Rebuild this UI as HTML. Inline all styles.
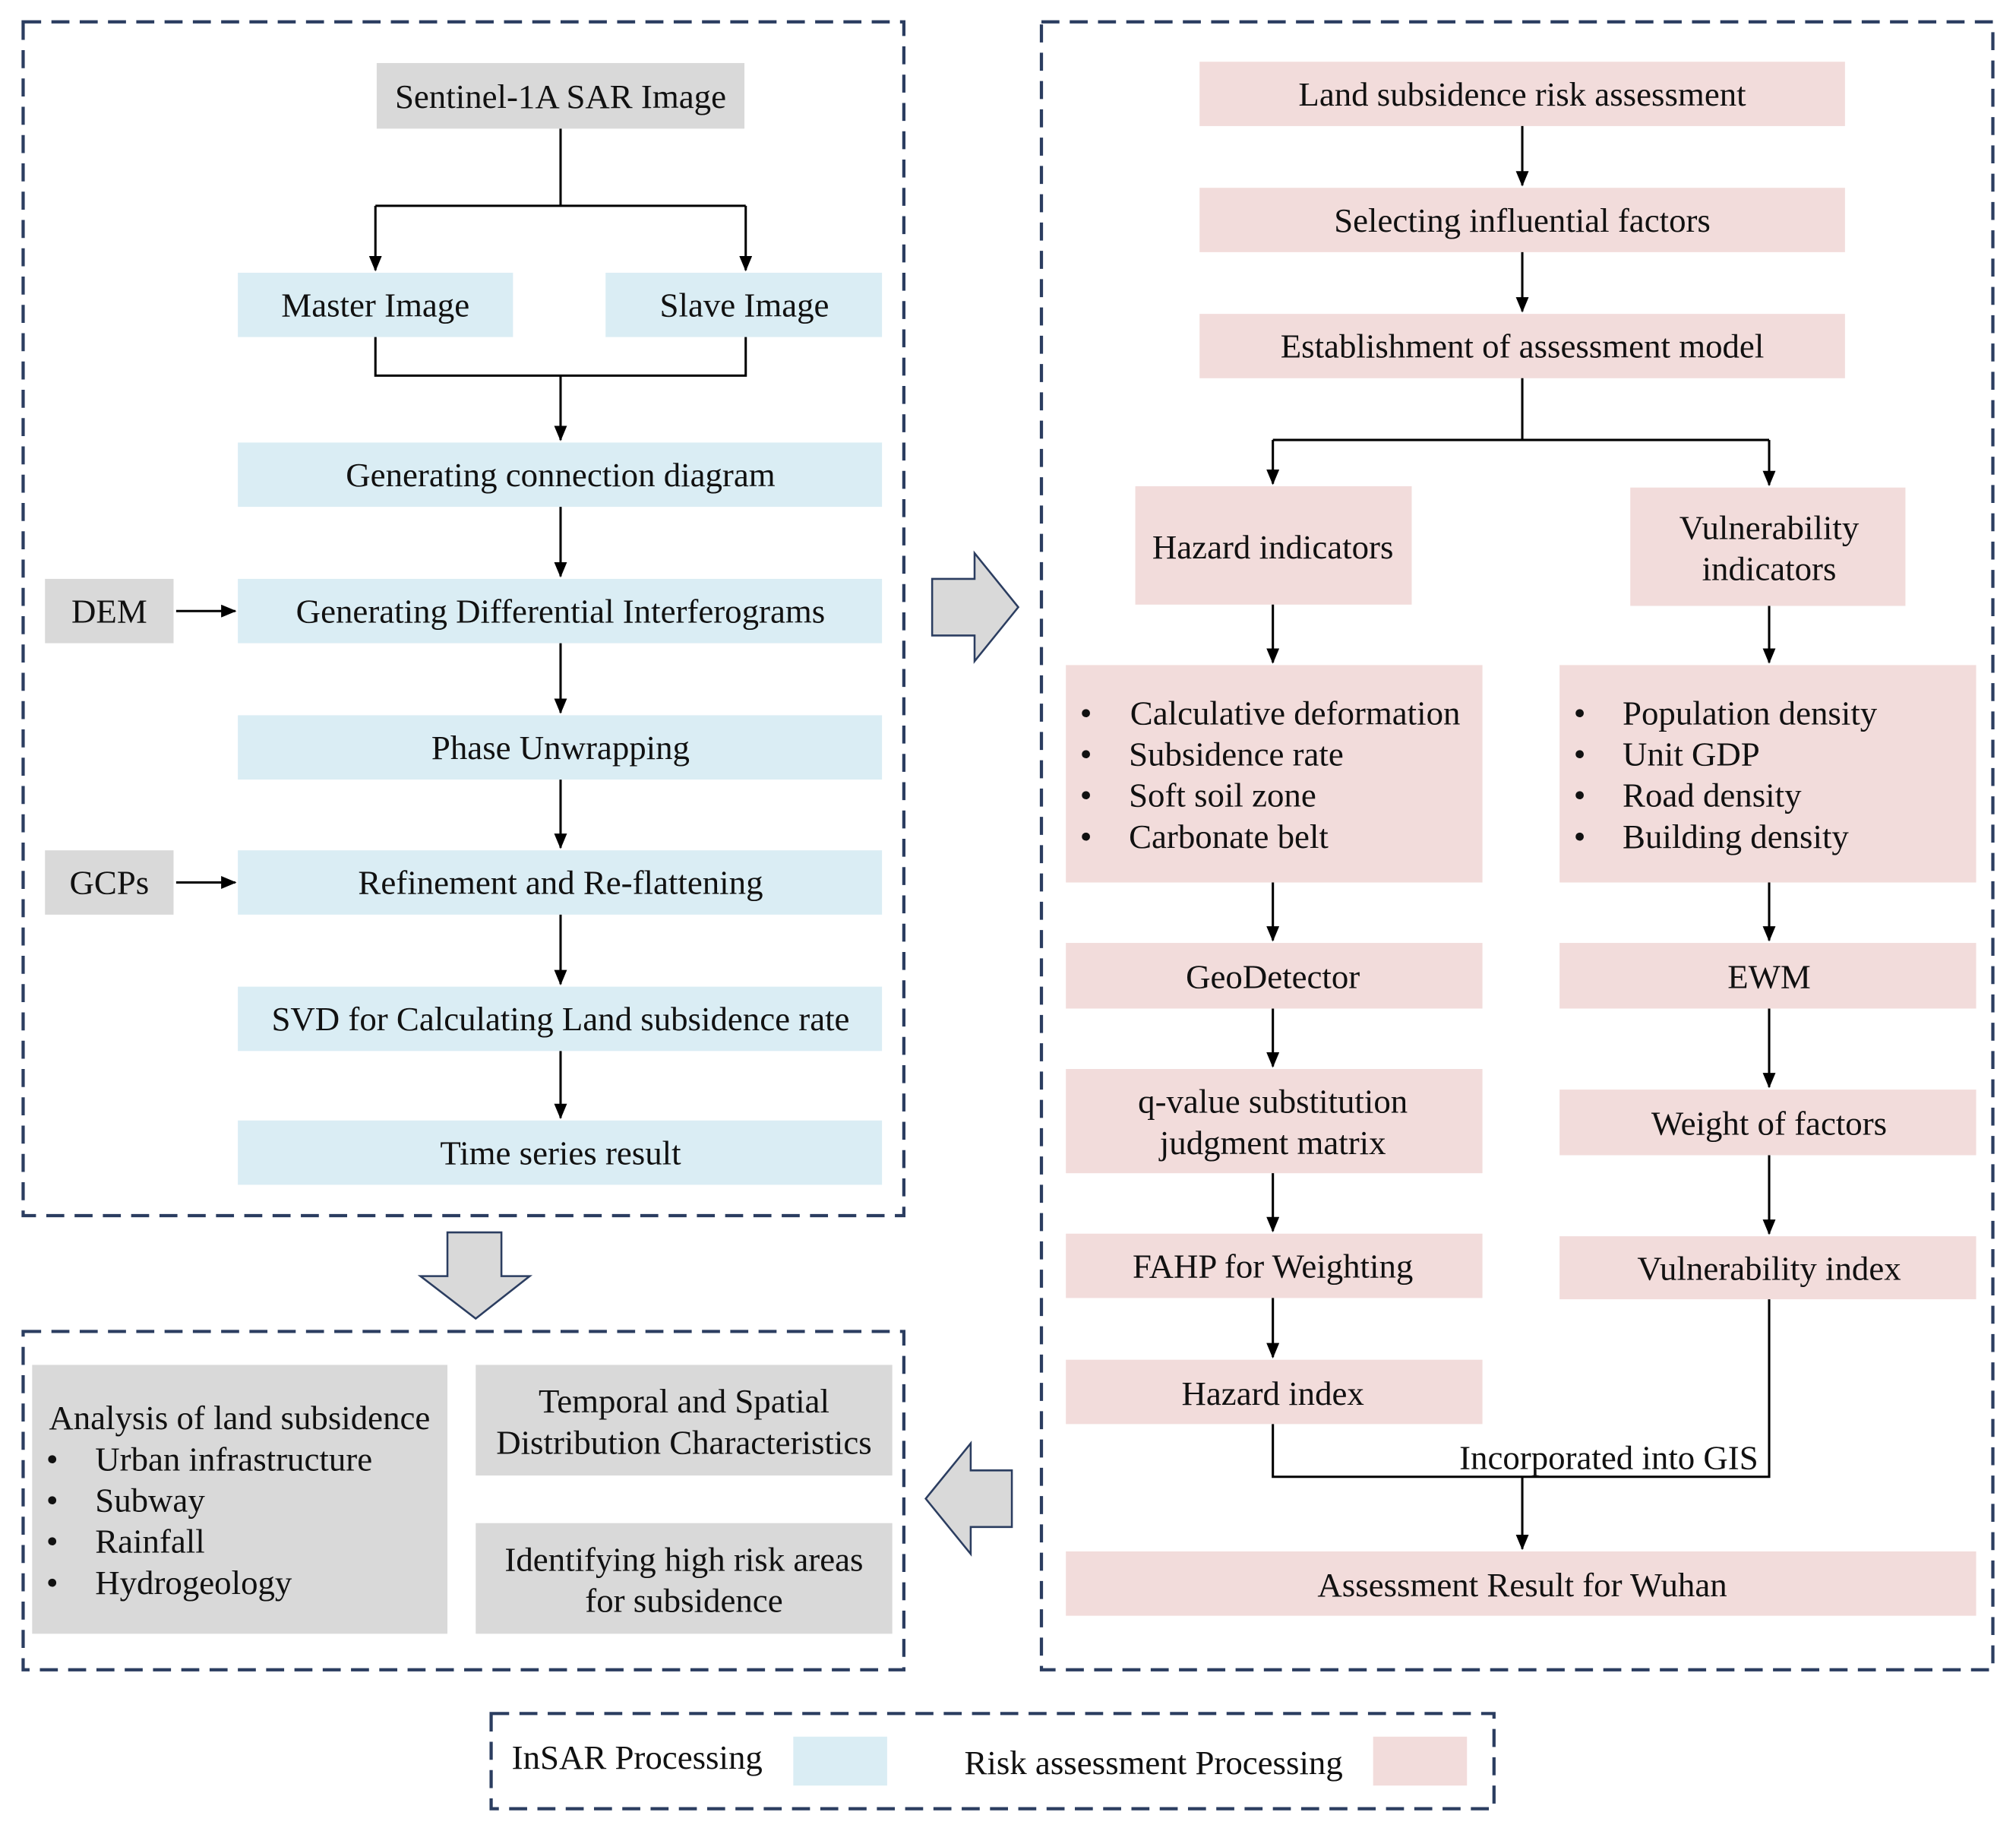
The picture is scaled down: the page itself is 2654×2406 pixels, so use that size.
<!DOCTYPE html>
<html><head><meta charset="utf-8"><style>html,body{margin:0;padding:0;background:#fff}svg{display:block}</style></head>
<body>
<svg xmlns="http://www.w3.org/2000/svg" width="2654" height="2406" viewBox="0 0 1568 1421" preserveAspectRatio="none" font-family="Liberation Serif, serif" font-size="26.5" fill="#111">
<defs><marker id="a" markerWidth="10" markerHeight="12" refX="5" refY="11" orient="0" markerUnits="userSpaceOnUse"><path d="M0,0 L10,0 L5,12 Z" fill="#000"/></marker>
<marker id="r" markerWidth="12" markerHeight="10" refX="11" refY="5" orient="0" markerUnits="userSpaceOnUse"><path d="M0,0 L12,5 L0,10 Z" fill="#000"/></marker></defs>
<g fill="none" stroke="#2b3d60" stroke-width="2.5" stroke-dasharray="14,8">
<rect x="18" y="17" width="685" height="928"/>
<rect x="18" y="1035" width="685" height="263"/>
<rect x="810" y="17" width="740" height="1281"/>
<rect x="382" y="1332" width="780" height="74"/>
</g>
<g fill="#d9d9d9">
<rect x="293" y="49" width="286" height="51"/>
<rect x="35" y="450" width="100" height="50"/>
<rect x="35" y="661" width="100" height="50"/>
<rect x="25" y="1061" width="323" height="209"/>
<rect x="370" y="1061" width="324" height="86"/>
<rect x="370" y="1184" width="324" height="86"/>
</g>
<g fill="#daedf4">
<rect x="185" y="212" width="214" height="50"/><rect x="471" y="212" width="215" height="50"/>
<rect x="185" y="344" width="501" height="50"/><rect x="185" y="450" width="501" height="50"/>
<rect x="185" y="556" width="501" height="50"/><rect x="185" y="661" width="501" height="50"/>
<rect x="185" y="767" width="501" height="50"/><rect x="185" y="871" width="501" height="50"/>
<rect x="617" y="1350" width="73" height="38"/>
</g>
<g fill="#f2dcdb">
<rect x="933" y="48" width="502" height="50"/><rect x="933" y="146" width="502" height="50"/><rect x="933" y="244" width="502" height="50"/>
<rect x="883" y="378" width="215" height="92"/><rect x="1268" y="379" width="214" height="92"/>
<rect x="829" y="517" width="324" height="169"/><rect x="1213" y="517" width="324" height="169"/>
<rect x="829" y="733" width="324" height="51"/><rect x="1213" y="733" width="324" height="51"/>
<rect x="829" y="831" width="324" height="81"/><rect x="1213" y="847" width="324" height="51"/>
<rect x="829" y="959" width="324" height="50"/><rect x="1213" y="961" width="324" height="49"/>
<rect x="829" y="1057" width="324" height="50"/><rect x="829" y="1206" width="708" height="50"/>
<rect x="1068" y="1350" width="73" height="38"/>
</g>
<g fill="#d9d9d9" stroke="#2b3d60" stroke-width="1.5">
<polygon points="725,450 758,450 758,430 792,472 758,514 758,494 725,494"/>
<polygon points="348,958 390,958 390,992 412,992 370,1025 327,992 348,992"/>
<polygon points="787,1143 755,1143 755,1122 720,1165 755,1208 755,1187 787,1187"/>
</g>
<g fill="none" stroke="#000" stroke-width="1.8">
<path d="M436,100 V160 M292,160 H580"/>
<path d="M292,262 V292 H580 V262"/>
<path d="M1184,294 V342 M990,342 H1376"/>
<path d="M990,1107 V1148 H1376 V1010"/>
</g>
<g fill="none" stroke="#000" stroke-width="1.8" marker-end="url(#a)">
<path d="M292,160 V210"/><path d="M580,160 V210"/>
<path d="M436,292 V342"/>
<path d="M436,394 V448"/><path d="M436,500 V554"/><path d="M436,606 V659"/><path d="M436,711 V765"/><path d="M436,817 V869"/>
<path d="M1184,98 V144"/><path d="M1184,196 V242"/>
<path d="M990,342 V376"/><path d="M1376,342 V377"/>
<path d="M990,470 V515"/><path d="M1376,471 V515"/><path d="M990,686 V731"/><path d="M1376,686 V731"/>
<path d="M990,784 V829"/><path d="M1376,784 V845"/><path d="M990,912 V957"/><path d="M1376,898 V959"/><path d="M990,1009 V1055"/>
<path d="M1184,1148 V1204"/>
</g>
<g fill="none" stroke="#000" stroke-width="1.8" marker-end="url(#r)">
<path d="M137,475 H183"/><path d="M137,686 H183"/>
</g>
<g text-anchor="middle">
<text x="436" y="84">Sentinel-1A SAR Image</text>
<text x="292" y="246">Master Image</text><text x="579" y="246">Slave Image</text>
<text x="436" y="378">Generating connection diagram</text>
<text x="436" y="484">Generating Differential Interferograms</text>
<text x="85" y="484">DEM</text><text x="85" y="695">GCPs</text>
<text x="436" y="590">Phase Unwrapping</text>
<text x="436" y="695">Refinement and Re-flattening</text>
<text x="436" y="801">SVD for Calculating Land subsidence rate</text>
<text x="436" y="905">Time series result</text>
<text x="532" y="1098">Temporal and Spatial</text><text x="532" y="1130">Distribution Characteristics</text>
<text x="532" y="1221">Identifying high risk areas</text><text x="532" y="1253">for subsidence</text>
<text x="1184" y="82">Land subsidence risk assessment</text>
<text x="1184" y="180">Selecting influential factors</text>
<text x="1184" y="278">Establishment of assessment model</text>
<text x="990" y="434">Hazard indicators</text>
<text x="1376" y="419">Vulnerability</text><text x="1376" y="451">indicators</text>
<text x="990" y="768">GeoDetector</text><text x="1376" y="768">EWM</text>
<text x="990" y="865">q-value substitution</text><text x="990" y="897">judgment matrix</text>
<text x="1376" y="882">Weight of factors</text>
<text x="990" y="993">FAHP for Weighting</text>
<text x="1376" y="995">Vulnerability index</text>
<text x="990" y="1092">Hazard index</text>
<text x="1184" y="1241">Assessment Result for Wuhan</text>
</g>
<text x="1135" y="1142">Incorporated into GIS</text>
<text x="38" y="1111">Analysis of land subsidence</text>
<g><text x="36" y="1143">•</text><text x="74" y="1143">Urban infrastructure</text>
<text x="36" y="1175">•</text><text x="74" y="1175">Subway</text>
<text x="36" y="1207">•</text><text x="74" y="1207">Rainfall</text>
<text x="36" y="1239">•</text><text x="74" y="1239">Hydrogeology</text>
<text x="840" y="563">•</text><text x="879" y="563">Calculative deformation</text>
<text x="840" y="595">•</text><text x="878" y="595">Subsidence rate</text>
<text x="840" y="627">•</text><text x="878" y="627">Soft soil zone</text>
<text x="840" y="659">•</text><text x="878" y="659">Carbonate belt</text>
<text x="1224" y="563">•</text><text x="1262" y="563">Population density</text>
<text x="1224" y="595">•</text><text x="1262" y="595">Unit GDP</text>
<text x="1224" y="627">•</text><text x="1262" y="627">Road density</text>
<text x="1224" y="659">•</text><text x="1262" y="659">Building density</text></g>
<text x="398" y="1375">InSAR Processing</text>
<text x="750" y="1379">Risk assessment Processing</text>
</svg>
</body></html>
